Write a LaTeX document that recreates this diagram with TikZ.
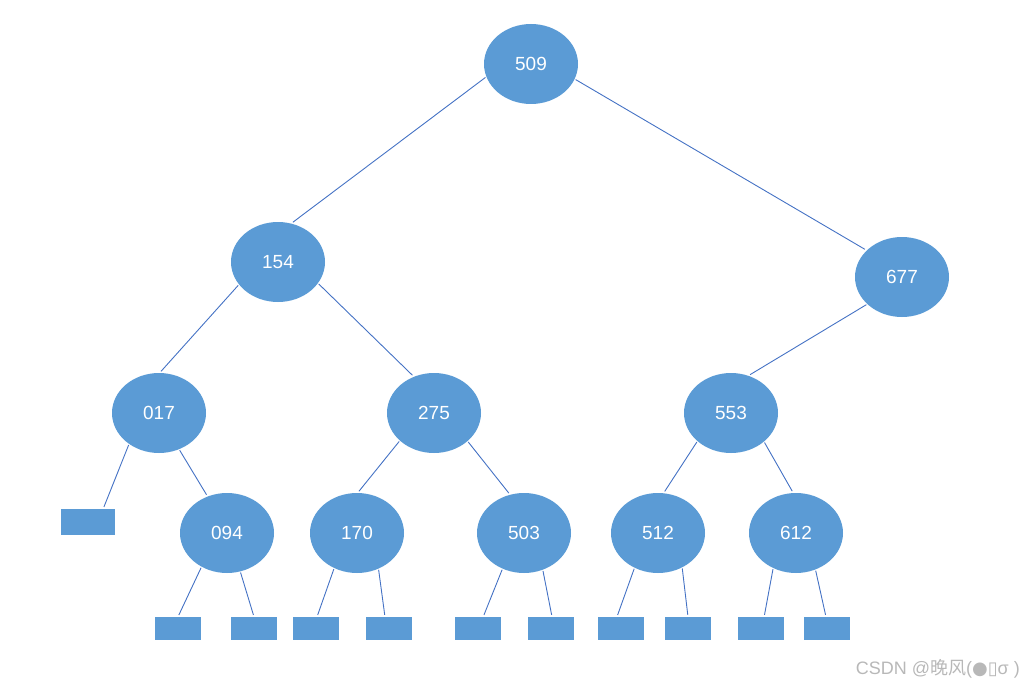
\documentclass[tikz,border=0pt]{standalone}
\usepackage{fontspec}
\setmainfont{Liberation Sans}
\newfontfamily\cjkfont{Noto Sans CJK SC}
\newfontfamily\symfont{DejaVu Sans}
\usetikzlibrary{shapes.geometric}
\definecolor{nodeblue}{HTML}{5B9BD5}
\definecolor{edgeblue}{HTML}{4472C4}
\tikzset{
  keynode/.style={ellipse, fill=nodeblue, draw=none, minimum width=94pt, minimum height=80pt, inner sep=0pt, text=white, font=\fontsize{19}{19}\selectfont},
  leafbox/.style={rectangle, fill=nodeblue, draw=none, minimum width=46pt, minimum height=23pt, inner sep=0pt},
  edge/.style={draw=edgeblue, line width=0.9pt, shorten <=1pt, shorten >=2pt}
}
\begin{document}
\begin{tikzpicture}[x=1pt, y=-1pt]
\useasboundingbox (0,0) rectangle (1034,690);
% keys
\node[keynode] (n509) at (531,64) {509};
\node[keynode] (n154) at (278,262) {154};
\node[keynode] (n677) at (902,277) {677};
\node[keynode] (n017) at (159,413) {017};
\node[keynode] (n275) at (434,413) {275};
\node[keynode] (n553) at (731,413) {553};
\node[keynode] (n094) at (227,533) {094};
\node[keynode] (n170) at (357,533) {170};
\node[keynode] (n503) at (524,533) {503};
\node[keynode] (n512) at (658,533) {512};
\node[keynode] (n612) at (796,533) {612};
% leaves
\node[leafbox, minimum width=54pt, minimum height=26pt] (l0) at (88,522) {};
\node[leafbox] (l1) at (178,628.5) {};
\node[leafbox] (l2) at (254,628.5) {};
\node[leafbox] (l3) at (316,628.5) {};
\node[leafbox] (l4) at (389,628.5) {};
\node[leafbox] (l5) at (478,628.5) {};
\node[leafbox] (l6) at (551,628.5) {};
\node[leafbox] (l7) at (621,628.5) {};
\node[leafbox] (l8) at (688,628.5) {};
\node[leafbox] (l9) at (761,628.5) {};
\node[leafbox] (l10) at (827,628.5) {};
% edges
\draw[edge] (n509.196) -- (n154.71);
\draw[edge] (n509.341) -- (n677.143);
\draw[edge] (n154.210) -- (n017.89);
\draw[edge] (n154.332) -- (n275.119);
\draw[edge] (n677.218) -- (n553.65);
\draw[edge] (n017.226) -- (l0.41);
\draw[edge] (n017.299) -- (n094.118);
\draw[edge] (n275.219) -- (n170.89);
\draw[edge] (n275.320) -- (n503.110);
\draw[edge] (n553.220) -- (n512.82);
\draw[edge] (n553.319) -- (n612.94);
\draw[edge] (n094.233) -- (l1.north);
\draw[edge] (n094.289) -- (l2.north);
\draw[edge] (n170.237) -- (l3.85);
\draw[edge] (n170.301) -- (l4.109);
\draw[edge] (n503.239) -- (l5.66);
\draw[edge] (n503.297) -- (l6.85);
\draw[edge] (n512.236) -- (l7.109);
\draw[edge] (n512.305) -- (l8.north);
\draw[edge] (n612.237) -- (l9.75);
\draw[edge] (n612.298) -- (l10.95);
% watermark
\node[anchor=east, text=black!28, font=\fontsize{18}{18}\selectfont, inner sep=0pt] (wm) at (1020,669)
  {CSDN @{\cjkfont 晚风}({\symfont ●}{\symfont ▯}σ )};
\end{tikzpicture}
\end{document}
